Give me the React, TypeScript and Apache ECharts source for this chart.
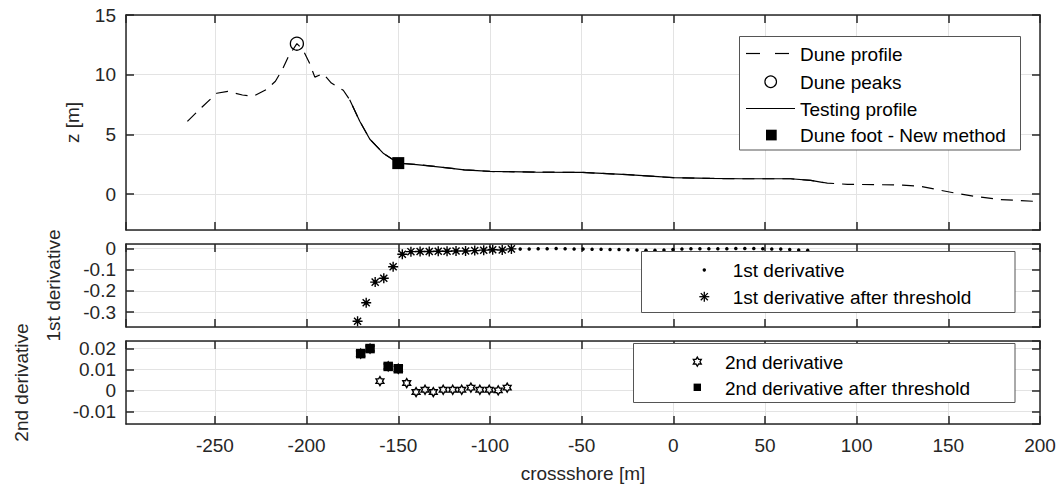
import React, { useEffect, useRef } from "react";
import * as echarts from "echarts";

// ---- Top panel: dune profile data ----
const duneX = [-265, -257, -249, -243, -235, -229, -222, -217, -213, -210, -205.3, -202, -198.5, -195.5, -191, -186.5, -180, -176.5, -171, -165.5, -158, -150, -140, -127, -114, -100, -75, -50, -25, 0, 20, 37, 64, 75, 84, 95, 110, 125, 135, 145, 155, 165, 178, 197];
const duneZ = [6.1, 7.3, 8.45, 8.6, 8.3, 8.2, 8.75, 9.45, 10.5, 11.5, 12.6, 12.1, 11.0, 9.8, 10.1, 9.3, 8.7, 7.9, 6.1, 4.6, 3.4, 2.6, 2.48, 2.27, 2.04, 1.9, 1.85, 1.82, 1.63, 1.38, 1.32, 1.29, 1.29, 1.15, 0.93, 0.82, 0.8, 0.76, 0.65, 0.35, 0.05, -0.2, -0.45, -0.6];

const testX = [-176.5, -171, -165.5, -158, -150, -140, -127, -114, -100, -75, -50, -25, 0, 20, 37, 64, 75, 82];
const testZ = [7.9, 6.1, 4.6, 3.4, 2.6, 2.48, 2.27, 2.04, 1.9, 1.85, 1.82, 1.63, 1.38, 1.32, 1.29, 1.29, 1.15, 0.97];

const peakX = [-205.3];
const peakZ = [12.6];
const footX = [-150];
const footZ = [2.6];

// ---- Middle panel: 1st derivative ----
const d1X = [-172.2, -167.5, -162.6, -157.9, -152.8, -147.8, -143.1, -138.1, -133.1, -128.2, -123.4, -118.5, -113.3, -108.3, -103.4, -98.5, -93.3, -88.3, -83.5, -78.6, -73.7, -68.8, -63.9, -59.0, -54.1, -49.2, -44.3, -39.4, -34.5, -29.6, -24.7, -19.8, -14.9, -10.0, -5.1, -0.2, 4.7, 9.6, 14.5, 19.4, 24.3, 29.2, 34.1, 39.0, 43.9, 48.8, 53.7, 58.6, 63.5, 68.4, 73.3];
const d1Y = [-0.343, -0.256, -0.159, -0.141, -0.087, -0.028, -0.016, -0.015, -0.015, -0.014, -0.014, -0.013, -0.013, -0.011, -0.009, -0.007, -0.008, -0.003, -0.004, -0.003, -0.002, -0.002, -0.001, -0.002, -0.003, -0.004, -0.005, -0.005, -0.006, -0.006, -0.007, -0.008, -0.009, -0.009, -0.008, -0.006, -0.003, -0.002, -0.002, -0.002, -0.002, -0.002, -0.001, -0.001, -0.001, -0.002, -0.003, -0.004, -0.006, -0.008, -0.010];

const d1tX = [-172.2, -167.5, -162.6, -157.9, -152.8, -147.8, -143.1, -138.1, -133.1, -128.2, -123.4, -118.5, -113.3, -108.3, -103.4, -98.5, -93.3, -88.3];
const d1tY = [-0.343, -0.256, -0.159, -0.141, -0.087, -0.028, -0.016, -0.015, -0.015, -0.014, -0.014, -0.013, -0.013, -0.011, -0.009, -0.007, -0.008, -0.003];

// ---- Bottom panel: 2nd derivative ----
const d2X = [-170.5, -165.4, -160, -155.5, -150, -145.4, -140.3, -135.4, -130.9, -125.5, -120.3, -115.4, -110.4, -105.5, -100.4, -95.5, -90.6];
const d2Y = [0.0175, 0.0199, 0.0044, 0.0114, 0.0103, 0.0035, -0.0008, 0.0003, -0.0008, 0.0003, 0.0003, 0.0003, 0.0013, 0.0003, 0.0003, 0.0, 0.0013];

const d2tX = [-170.5, -165.4, -155.5, -150];
const d2tY = [0.0175, 0.0199, 0.0114, 0.0103];

// ---- axis settings ----
const xMin = -298.5;
const xMax = 200;
const yRanges = [
  { min: -3, max: 15 },
  { min: -0.37, max: 0.02 },
  { min: -0.016, max: 0.0235 },
];
const yNames = ["z [m]", "1st derivative", "2nd derivative"];
const legend1 = ["Dune profile", "Dune peaks", "Testing profile", "Dune foot - New method"];
const legend2 = ["1st derivative", "1st derivative after threshold"];
const legend3 = ["2nd derivative", "2nd derivative after threshold"];

const FONT = "'Liberation Sans', Arial, Helvetica, sans-serif";
const AX = "#262626";
const GRID = "#e3e3e3";

const ASTERISK = "path://M0,5L10,5M5,0L5,10M1.46,1.46L8.54,8.54M8.54,1.46L1.46,8.54";
const HEXAGRAM = "path://M10,0L12.887,5L18.66,5L15.774,10L18.66,15L12.887,15L10,20L7.113,15L1.34,15L4.226,10L1.34,5L7.113,5Z";

const zip = (a: number[], b: number[]) => a.map((v, i) => [v, b[i]]);

function hexPoints(cx: number, cy: number, R: number) {
  const pts: number[][] = [];
  for (let k = 0; k < 12; k++) {
    const ang = ((-90 + 30 * k) * Math.PI) / 180;
    const r = k % 2 === 0 ? R : R / Math.sqrt(3);
    pts.push([cx + r * Math.cos(ang), cy + r * Math.sin(ang)]);
  }
  return pts;
}

function asteriskLines(cx: number, cy: number, r: number) {
  return [0, 45, 90, 135].map((a) => {
    const t = (a * Math.PI) / 180;
    return {
      type: "line",
      z: 101,
      shape: { x1: cx - r * Math.cos(t), y1: cy - r * Math.sin(t), x2: cx + r * Math.cos(t), y2: cy + r * Math.sin(t) },
      style: { stroke: "#000", lineWidth: 1.3 },
    };
  });
}

function legendText(text: string, x: number, y: number) {
  return {
    type: "text",
    z: 101,
    x,
    y,
    style: { text, fill: "#000", font: `19px ${FONT}`, textVerticalAlign: "middle", verticalAlign: "middle" },
  };
}

export default function App() {
  const ref = useRef<HTMLDivElement>(null);

  useEffect(() => {
    if (!ref.current) return;
    const chart = echarts.init(ref.current, undefined, { renderer: "svg" });

    const grids = [
      { left: 126, right: 20, top: 15, height: 215 },
      { left: 126, right: 20, top: 244, height: 83 },
      { left: 126, right: 20, top: 341, height: 83 },
    ];

    const axisLine = { show: true, onZero: false, lineStyle: { color: AX, width: 1.5 } };
    const xAxes: any[] = [];
    const yAxes: any[] = [];
    for (let i = 0; i < 3; i++) {
      xAxes.push({
        type: "value",
        gridIndex: i,
        position: "bottom",
        min: xMin,
        max: xMax,
        splitNumber: 10,
        axisLine,
        axisTick: { show: true, inside: true, length: 8, lineStyle: { color: AX, width: 1.5 } },
        axisLabel: {
          show: i === 2,
          showMinLabel: false,
          showMaxLabel: true,
          margin: 12,
          color: AX,
          fontSize: 19,
          fontFamily: FONT,
        },
        splitLine: { show: true, lineStyle: { color: GRID, width: 1 } },
        name: i === 2 ? "crossshore [m]" : "",
        nameLocation: "middle",
        nameGap: 40,
        nameTextStyle: { color: AX, fontSize: 19, fontFamily: FONT },
      });
    }
    for (let i = 0; i < 3; i++) {
      xAxes.push({
        type: "value",
        gridIndex: i,
        position: "top",
        min: xMin,
        max: xMax,
        splitNumber: 10,
        axisLine,
        axisTick: { show: true, inside: true, length: 8, lineStyle: { color: AX, width: 1.5 } },
        axisLabel: { show: false },
        splitLine: { show: false },
      });
    }
    const nameGaps = [44, 63, 95];
    for (let i = 0; i < 3; i++) {
      yAxes.push({
        type: "value",
        gridIndex: i,
        position: "left",
        min: yRanges[i].min,
        max: yRanges[i].max,
        splitNumber: 4,
        axisLine,
        axisTick: { show: true, inside: true, length: 8, lineStyle: { color: AX, width: 1.5 } },
        axisLabel: {
          show: true,
          showMinLabel: false,
          showMaxLabel: i === 0,
          margin: 10,
          color: AX,
          fontSize: 19,
          fontFamily: FONT,
        },
        splitLine: { show: true, lineStyle: { color: GRID, width: 1 } },
        name: yNames[i],
        nameLocation: "middle",
        nameGap: nameGaps[i],
        nameRotate: 90,
        nameTextStyle: { color: AX, fontSize: 19, fontFamily: FONT },
      });
    }
    for (let i = 0; i < 3; i++) {
      yAxes.push({
        type: "value",
        gridIndex: i,
        position: "right",
        min: yRanges[i].min,
        max: yRanges[i].max,
        splitNumber: 4,
        axisLine,
        axisTick: { show: true, inside: true, length: 8, lineStyle: { color: AX, width: 1.5 } },
        axisLabel: { show: false },
        splitLine: { show: false },
      });
    }

    const graphic: any[] = [
      // legend 1
      { type: "rect", z: 100, shape: { x: 739.5, y: 36.5, width: 281, height: 113.5 }, style: { fill: "#fff", stroke: "#555", lineWidth: 1 } },
      { type: "line", z: 101, shape: { x1: 746, y1: 53.5, x2: 760, y2: 53.5 }, style: { stroke: "#000", lineWidth: 1.2 } },
      { type: "line", z: 101, shape: { x1: 775, y1: 53.5, x2: 789, y2: 53.5 }, style: { stroke: "#000", lineWidth: 1.2 } },
      legendText(legend1[0], 800, 54),
      { type: "circle", z: 101, shape: { cx: 770.7, cy: 81.7, r: 5.8 }, style: { fill: "none", stroke: "#000", lineWidth: 1.2 } },
      legendText(legend1[1], 800, 82),
      { type: "line", z: 101, shape: { x1: 746, y1: 108.5, x2: 795, y2: 108.5 }, style: { stroke: "#000", lineWidth: 1.2 } },
      legendText(legend1[2], 800, 109),
      { type: "rect", z: 101, shape: { x: 766, y: 129.7, width: 10.7, height: 10.7 }, style: { fill: "#000" } },
      legendText(legend1[3], 800, 135.5),
      // legend 2
      { type: "rect", z: 100, shape: { x: 641.5, y: 251.5, width: 373.5, height: 61 }, style: { fill: "#fff", stroke: "#555", lineWidth: 1 } },
      { type: "circle", z: 101, shape: { cx: 704.3, cy: 270, r: 1.7 }, style: { fill: "#000" } },
      legendText(legend2[0], 732.7, 270.5),
      ...asteriskLines(704.3, 296.7, 5),
      legendText(legend2[1], 732.7, 297),
      // legend 3
      { type: "rect", z: 100, shape: { x: 633.5, y: 343.5, width: 381.5, height: 59 }, style: { fill: "#fff", stroke: "#555", lineWidth: 1 } },
      { type: "polygon", z: 101, shape: { points: hexPoints(697.3, 361.7, 4.6) }, style: { fill: "none", stroke: "#000", lineWidth: 1.3 } },
      legendText(legend3[0], 725, 362),
      { type: "rect", z: 101, shape: { x: 693.6, y: 383.6, width: 7.4, height: 7.4 }, style: { fill: "#000" } },
      legendText(legend3[1], 725, 388),
    ];

    const option: any = {
      animation: false,
      textStyle: { fontFamily: FONT },
      grid: grids,
      xAxis: xAxes,
      yAxis: yAxes,
      series: [
        {
          name: legend1[0],
          type: "line",
          xAxisIndex: 0,
          yAxisIndex: 0,
          data: zip(duneX, duneZ),
          showSymbol: false,
          lineStyle: { color: "#000", width: 1.2, type: [12, 8] },
          z: 2,
        },
        {
          name: legend1[2],
          type: "line",
          xAxisIndex: 0,
          yAxisIndex: 0,
          data: zip(testX, testZ),
          showSymbol: false,
          lineStyle: { color: "#000", width: 1.2 },
          z: 3,
        },
        {
          name: legend1[1],
          type: "scatter",
          xAxisIndex: 0,
          yAxisIndex: 0,
          data: zip(peakX, peakZ),
          symbol: "circle",
          symbolSize: 13,
          itemStyle: { color: "rgba(0,0,0,0)", borderColor: "#000", borderWidth: 1.3, opacity: 1 },
          z: 4,
        },
        {
          name: legend1[3],
          type: "scatter",
          xAxisIndex: 0,
          yAxisIndex: 0,
          data: zip(footX, footZ),
          symbol: "rect",
          symbolSize: 12,
          itemStyle: { color: "#000", opacity: 1 },
          z: 5,
        },
        {
          name: legend2[0],
          type: "scatter",
          xAxisIndex: 1,
          yAxisIndex: 1,
          data: zip(d1X, d1Y),
          symbol: "circle",
          symbolSize: 3.5,
          itemStyle: { color: "#000", opacity: 1 },
          z: 2,
        },
        {
          name: legend2[1],
          type: "scatter",
          xAxisIndex: 1,
          yAxisIndex: 1,
          data: zip(d1tX, d1tY),
          symbol: ASTERISK,
          symbolSize: 10,
          symbolKeepAspect: true,
          itemStyle: { color: "rgba(0,0,0,0)", borderColor: "#000", borderWidth: 1.4, opacity: 1 },
          z: 3,
        },
        {
          name: legend3[0],
          type: "scatter",
          xAxisIndex: 2,
          yAxisIndex: 2,
          data: zip(d2X, d2Y),
          symbol: HEXAGRAM,
          symbolSize: 9,
          symbolKeepAspect: true,
          itemStyle: { color: "rgba(0,0,0,0)", borderColor: "#000", borderWidth: 1.4, opacity: 1 },
          z: 2,
        },
        {
          name: legend3[1],
          type: "scatter",
          xAxisIndex: 2,
          yAxisIndex: 2,
          data: zip(d2tX, d2tY),
          symbol: "rect",
          symbolSize: 9.5,
          itemStyle: { color: "#000", opacity: 1 },
          z: 3,
        },
      ],
      graphic,
    };

    chart.setOption(option);
    return () => chart.dispose();
  }, []);

  return (
    <div
      ref={ref}
      style={{ position: "absolute", left: 0, top: 0, width: 1060, height: 497, background: "#fff" }}
    />
  );
}
